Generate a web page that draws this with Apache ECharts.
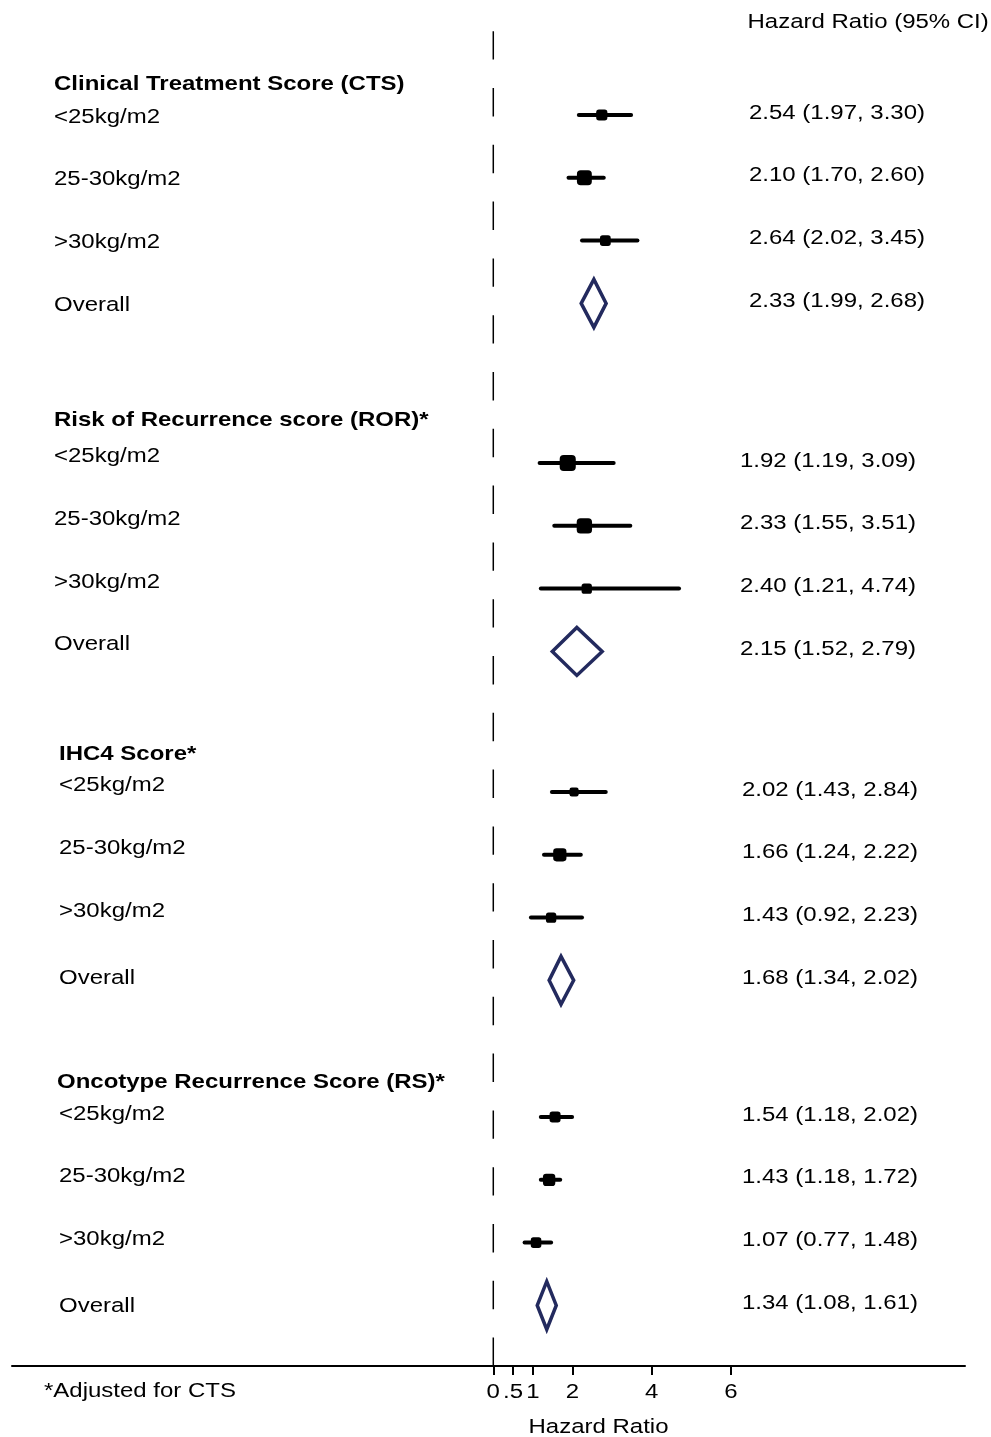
<!DOCTYPE html>
<html>
<head>
<meta charset="utf-8">
<script src="https://cdn.jsdelivr.net/npm/echarts@6.0.0/dist/echarts.min.js"></script>
<style>
  html, body { margin: 0; padding: 0; background: #fff; }
  #chart { width: 991px; height: 1437px; }
</style>
</head>
<body>
<div id="chart"></div>
<script>
// ---- data ----
const groups = [
  'Clinical Treatment Score (CTS)',
  'Risk of Recurrence score (ROR)*',
  'IHC4 Score*',
  'Oncotype Recurrence Score (RS)*'
]
const subgroups = ['<25kg/m2', '25-30kg/m2', '>30kg/m2', 'Overall']

// printed column
const hrText = [
  ['2.54 (1.97, 3.30)', '2.10 (1.70, 2.60)', '2.64 (2.02, 3.45)', '2.33 (1.99, 2.68)'],
  ['1.92 (1.19, 3.09)', '2.33 (1.55, 3.51)', '2.40 (1.21, 4.74)', '2.15 (1.52, 2.79)'],
  ['2.02 (1.43, 2.84)', '1.66 (1.24, 2.22)', '1.43 (0.92, 2.23)', '1.68 (1.34, 2.02)'],
  ['1.54 (1.18, 2.02)', '1.43 (1.18, 1.72)', '1.07 (0.77, 1.48)', '1.34 (1.08, 1.61)']
]

// plotted marks (last one in each block is the diamond)
const hrEst = [
  [2.74, 2.30, 2.83, 2.54],
  [1.88, 2.30, 2.36, 2.11],
  [2.04, 1.68, 1.46, 1.71],
  [1.56, 1.41, 1.08, 1.35]
]
const ciLow = [
  [2.16, 1.90, 2.24, 2.22],
  [1.17, 1.54, 1.20, 1.49],
  [1.48, 1.28, 0.95, 1.41],
  [1.20, 1.20, 0.79, 1.11]
]
const ciHigh = [
  [3.48, 2.79, 3.64, 2.85],
  [3.04, 3.46, 4.69, 2.75],
  [2.84, 2.21, 2.24, 2.03],
  [1.99, 1.69, 1.46, 1.59]
]
const boxWeight = [
  [27, 48, 25],
  [56, 51, 23],
  [18, 38, 23],
  [26, 33, 24]
]

const tickValues = [0, 0.5, 1, 2, 4, 6]
const tickLabels = ['0', '.5', '1', '2', '4', '6']
const axisTitle = 'Hazard Ratio'
const columnTitle = 'Hazard Ratio (95% CI)'
const footNote = '*Adjusted for CTS'

// ---- layout ----
const rowPx = 62.8
const yMax = 1366 / rowPx
const rowStart = [1.831, 7.373, 12.611, 17.787]
const blockText = [
  { headX: 54, leftX: 54, rightX: 749, headDy: -32, rowDy: 1, overallDy: 1 },
  { headX: 54, leftX: 54, rightX: 740, headDy: -44, rowDy: -7.5, overallDy: -8 },
  { headX: 59, leftX: 59, rightX: 742, headDy: -39, rowDy: -7.5, overallDy: -3 },
  { headX: 57, leftX: 59, rightX: 742, headDy: -36, rowDy: -4, overallDy: 0 }
]
const stretch = 1.17
const textShift = 1
const textFont = '20.5px "Liberation Sans", Arial, sans-serif'
const boldFont = 'bold ' + textFont

const rows = []
groups.forEach((g, gi) => {
  for (let i = 0; i < 4; i++) {
    rows.push({ gi, i, y: rowStart[gi] + i, est: hrEst[gi][i], lo: ciLow[gi][i], hi: ciHigh[gi][i] })
  }
})

const ciData = rows.filter(r => r.i < 3).map(r => [r.lo, r.hi, r.y])
const boxData = rows.filter(r => r.i < 3).map(r => ({
  value: [r.est, r.y],
  symbolSize: 2.15 * Math.sqrt(boxWeight[r.gi][r.i])
}))
const diamondData = rows.filter(r => r.i === 3).map(r => [r.lo, r.est, r.hi, r.y])

const chart = echarts.init(document.getElementById('chart'))

chart.setOption({
  animation: false,
  grid: { left: 12, right: 26, top: 0, bottom: 71 },
  xAxis: {
    type: 'value',
    min: -12.154,
    max: 11.912,
    axisLine: { show: true, onZero: false, lineStyle: { color: '#000', width: 2 } },
    axisTick: { show: true, customValues: tickValues, length: 9, lineStyle: { color: '#000', width: 2 } },
    axisLabel: { show: false },
    splitLine: { show: false }
  },
  yAxis: { type: 'value', inverse: true, min: 0, max: yMax, show: false },
  series: [
    {
      type: 'line',
      data: [[0, yMax], [0, 31 / rowPx]],
      symbol: 'none',
      lineStyle: { color: '#000', width: 1.5, type: [28.4, 28.4] },
      silent: true,
      z: 1
    },
    {
      type: 'custom',
      renderItem: (params, api) => {
        const a = api.coord([api.value(0), api.value(2)])
        const b = api.coord([api.value(1), api.value(2)])
        return {
          type: 'line',
          shape: { x1: a[0], y1: a[1], x2: b[0], y2: b[1] },
          style: { stroke: '#000', lineWidth: 4, lineCap: 'round' }
        }
      },
      encode: { x: [0, 1], y: 2 },
      data: ciData,
      z: 2
    },
    {
      type: 'scatter',
      symbol: 'roundRect',
      itemStyle: { color: '#000', opacity: 1 },
      data: boxData,
      z: 3
    },
    {
      type: 'custom',
      renderItem: (params, api) => {
        const y = api.value(3)
        const l = api.coord([api.value(0), y])
        const c = api.coord([api.value(1), y])
        const r = api.coord([api.value(2), y])
        const h = 24
        return {
          type: 'polygon',
          shape: { points: [l, [c[0], c[1] - h], r, [c[0], c[1] + h]] },
          style: { fill: '#fff', stroke: '#232a5e', lineWidth: 3.5, lineJoin: 'miter' }
        }
      },
      encode: { x: [0, 1, 2], y: 3 },
      data: diamondData,
      z: 3
    }
  ]
})

function txt(text, x, y, font, align) {
  return {
    type: 'text', x, y: y + textShift, scaleX: stretch, silent: true,
    style: { text, font: font || textFont, fill: '#000', textAlign: align || 'left', textVerticalAlign: 'middle' }
  }
}

const texts = []
const yPix = v => chart.convertToPixel({ yAxisIndex: 0 }, v)
groups.forEach((g, gi) => {
  const L = blockText[gi]
  texts.push(txt(g, L.headX, yPix(rowStart[gi]) + L.headDy, boldFont))
  subgroups.forEach((s, i) => {
    const y = yPix(rowStart[gi] + i)
    texts.push(txt(s, L.leftX, y + (i === 3 ? L.overallDy : L.rowDy)))
    texts.push(txt(hrText[gi][i], L.rightX, y - 3))
  })
})
tickValues.forEach((t, i) => {
  texts.push(txt(tickLabels[i], chart.convertToPixel({ xAxisIndex: 0 }, t), 1391, textFont, 'center'))
})
texts.push(txt(axisTitle, 598.5, 1426, textFont, 'center'))
texts.push(txt(columnTitle, 747.5, 21))
texts.push(txt(footNote, 44, 1390))

chart.setOption({ graphic: { elements: texts } })
</script>
</body>
</html>
